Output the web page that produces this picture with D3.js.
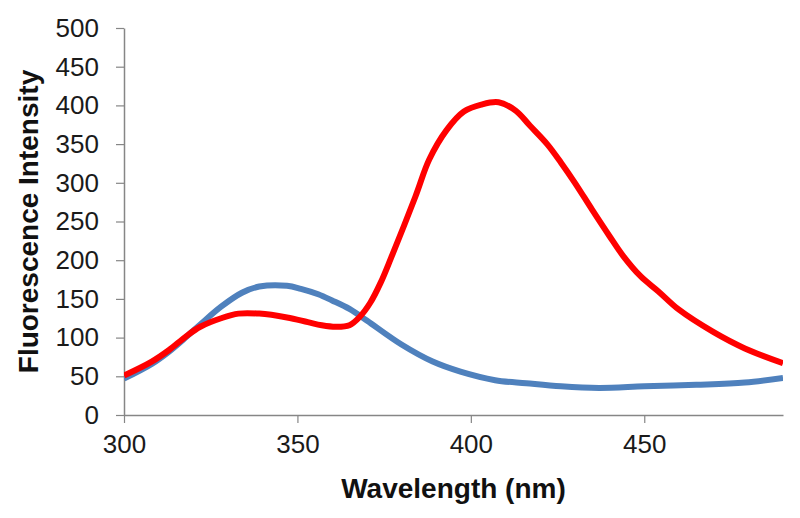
<!DOCTYPE html>
<html>
<head>
<meta charset="utf-8">
<script src="https://cdn.jsdelivr.net/npm/d3@7"></script>
<style>
  body { margin: 0; background: #fff; }
  svg text { font-family: "Liberation Sans", Arial, sans-serif; }
</style>
</head>
<body>
<div id="chart"></div>
<script>
// values
var redWavelength = [300, 308, 313, 318, 322, 328, 333, 339, 347, 353, 357, 361, 365, 368, 371, 374, 377, 384, 388, 393, 398, 403, 408, 413, 417, 422, 426, 430, 435, 440, 444, 449, 454, 460, 470, 479, 490];
var redIntensity  = [51, 69, 84, 102, 114, 125, 131, 131, 126, 120, 116, 114, 116, 127, 145, 171, 203, 282, 330, 368, 392, 401, 404, 393, 374, 350, 326, 300, 265, 231, 205, 179, 160, 136, 107, 86, 67];

var blueWavelength = [300, 308, 313, 318, 322, 328, 334, 339, 347, 351, 356, 360, 365, 370, 380, 389, 397, 407, 416, 426, 437, 450, 465, 479, 490];
var blueIntensity  = [47, 66, 82, 101, 117, 140, 158, 166, 167, 163, 156, 148, 137, 122, 91, 69, 56, 45, 41, 37, 35, 37, 39, 42, 48];

var xTicks = [300, 350, 400, 450];
var yTicks = [0, 50, 100, 150, 200, 250, 300, 350, 400, 450, 500];

var svgWidth = 800;
var svgHeight = 518;

var margin = { top: 28, right: 17, bottom: 103, left: 124 };
var width = svgWidth - margin.left - margin.right;
var height = svgHeight - margin.top - margin.bottom;

var svg = d3.select("#chart")
  .append("svg")
  .attr("width", svgWidth)
  .attr("height", svgHeight);

var chartGroup = svg.append("g")
  .attr("transform", `translate(${margin.left}, ${margin.top})`);

var xScale = d3.scaleLinear().domain([300, 490]).range([0, width]);
var yScale = d3.scaleLinear().domain([0, 500]).range([height, 0]);

// axes
var xAxis = chartGroup.append("g")
  .attr("transform", `translate(0, ${height})`)
  .call(d3.axisBottom(xScale).tickValues(xTicks).tickSize(8).tickPadding(12).tickSizeOuter(0));

var yAxis = chartGroup.append("g")
  .call(d3.axisLeft(yScale).tickValues(yTicks).tickSize(8).tickPadding(17).tickSizeOuter(0));

[xAxis, yAxis].forEach(function(ax) {
  ax.select(".domain").attr("stroke", "#868686").attr("stroke-width", 1.5);
  ax.selectAll(".tick line").attr("stroke", "#868686").attr("stroke-width", 1.2);
  ax.selectAll(".tick text")
    .attr("font-size", "26px")
    .attr("fill", "#1a1a1a")
    .style("font-family", "'Liberation Sans', Arial, sans-serif");
});

// clip lines to plot area
chartGroup.append("clipPath").attr("id", "plot-clip")
  .append("rect").attr("x", 0).attr("y", -10).attr("width", width).attr("height", height + 10);

var line = d3.line()
  .x(d => xScale(d[0]))
  .y(d => yScale(d[1]))
  .curve(d3.curveCatmullRom.alpha(0.5));

var blueData = d3.zip(blueWavelength, blueIntensity);
var redData = d3.zip(redWavelength, redIntensity);

chartGroup.append("path")
  .datum(blueData)
  .attr("clip-path", "url(#plot-clip)")
  .attr("fill", "none")
  .attr("stroke", "#4f81bd")
  .attr("stroke-width", 6)
  .attr("stroke-linejoin", "round")
  .attr("d", line);

chartGroup.append("path")
  .datum(redData)
  .attr("clip-path", "url(#plot-clip)")
  .attr("fill", "none")
  .attr("stroke", "#ff0000")
  .attr("stroke-width", 6)
  .attr("stroke-linejoin", "round")
  .attr("d", line);

// axis titles
svg.append("text")
  .attr("x", margin.left + width / 2)
  .attr("y", 498)
  .attr("text-anchor", "middle")
  .attr("font-size", "28px")
  .attr("font-weight", "bold")
  .attr("fill", "#111")
  .text("Wavelength (nm)");

svg.append("text")
  .attr("transform", `translate(38, ${margin.top + height / 2}) rotate(-90)`)
  .attr("text-anchor", "middle")
  .attr("font-size", "28px")
  .attr("font-weight", "bold")
  .attr("fill", "#111")
  .text("Fluorescence Intensity");
</script>
</body>
</html>
